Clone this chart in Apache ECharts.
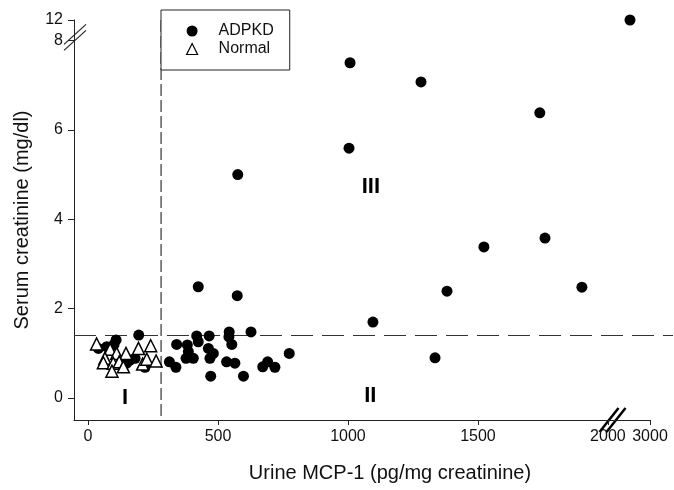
<!DOCTYPE html>
<html>
<head>
<meta charset="utf-8">
<script src="https://cdn.jsdelivr.net/npm/echarts@6/dist/echarts.min.js"></script>
<style>
  html, body { margin: 0; padding: 0; background: #fff; }
  #main { width: 674px; height: 490px; }
</style>
</head>
<body>
<div id="main"></div>
<script>
// ADPKD patients (urine MCP-1, serum creatinine)
const adpkdX = [2525, 1008, 1281, 1738, 1004, 1523, 1758, 1381, 1900, 576, 424, 574, 1096, 1335,
  341, 313, 338, 382, 386, 377, 405, 418, 424, 466, 463, 482, 469, 472,
  543, 542, 553, 533, 565, 598, 627, 672, 691, 719, 774,
  195, 108, 40, 72, 162, 181, 219, 149, 100];
const adpkdY = [12, 7.5, 7.07, 6.38, 5.59, 3.38, 3.58, 2.39, 2.48, 5.0, 2.49, 2.29, 1.7, 0.9,
  1.2, 0.81, 0.69, 1.19, 1.04, 0.89, 0.89, 1.39, 1.26, 1.39, 1.11, 1.0, 0.89, 0.49,
  1.48, 1.37, 1.2, 0.81, 0.78, 0.49, 1.48, 0.7, 0.81, 0.69, 1.0,
  1.41, 1.3, 1.11, 1.15, 0.85, 0.89, 0.69, 0.78, 1.2];

// normal controls
const normalX = [33, 85, 110, 146, 194, 241, 65, 59, 97, 120, 92, 136, 210, 226, 262];
const normalY = [1.21, 1.09, 1.0, 1.0, 1.11, 1.17, 0.89, 0.79, 0.78, 0.81, 0.6, 0.7, 0.76, 0.87, 0.83];

const xTicks = [0, 500, 1000, 1500, 2000, 3000];
const yTicks = [0, 2, 4, 6, 8, 12];

// cut-offs (dashed lines) and region names
const cutX = 281;
const cutY = 1.4;
const regionNames = ['I', 'II', 'III'];
const regionX = [142, 1086, 1088];
const regionY = [0, 0.05, 4.72];

// broken axes: above 2000 / above 8 the scale is squeezed
const X_BREAK = 2000, X_SQUEEZE = 0.162;
const Y_BREAK = 8, Y_SQUEEZE = 0.114;
function vx(x) { return x <= X_BREAK ? x : X_BREAK + (x - X_BREAK) * X_SQUEEZE; }
function vy(y) { return y <= Y_BREAK ? y : Y_BREAK + (y - Y_BREAK) * Y_SQUEEZE; }
function rx(v) { return v <= X_BREAK ? v : Math.round(X_BREAK + (v - X_BREAK) / X_SQUEEZE); }
function ry(v) { return v <= Y_BREAK ? v : Math.round(Y_BREAK + (v - Y_BREAK) / Y_SQUEEZE); }

const xMin = -54, xMax = vx(3000);
const yMin = -0.49, yMax = vy(12);

const FONT = 'Liberation Sans, Arial, sans-serif';
const INK = '#111';

const chart = echarts.init(document.getElementById('main'));

chart.setOption({
  animation: false,
  textStyle: { fontFamily: FONT, color: INK },
  grid: { left: 74, right: 24, top: 20, bottom: 70 },
  legend: {
    left: 161,
    top: 10,
    orient: 'vertical',
    z: 10,
    backgroundColor: '#fff',
    borderColor: '#222',
    borderWidth: 1,
    padding: [13, 16, 13, 25],
    itemGap: 2,
    itemWidth: 11,
    itemHeight: 11,
    formatter: name => '{s|}' + name,
    textStyle: {
      fontSize: 16, color: INK, fontFamily: FONT,
      rich: { s: { width: 16 } }
    },
    data: [
      { name: 'ADPKD', icon: 'circle', itemStyle: { color: '#000' } },
      { name: 'Normal', icon: 'triangle', itemStyle: { color: '#fff', borderColor: '#000', borderWidth: 1.2 } }
    ]
  },
  xAxis: {
    type: 'value',
    min: xMin,
    max: xMax,
    name: 'Urine MCP-1 (pg/mg creatinine)',
    nameLocation: 'middle',
    nameGap: 43,
    nameTextStyle: { fontSize: 20, color: INK, padding: [0, 0, 0, 56] },
    axisLine: { onZero: false, lineStyle: { color: '#222', width: 1 } },
    axisTick: { customValues: xTicks.map(vx), length: 5, lineStyle: { color: '#222' } },
    axisLabel: {
      customValues: xTicks.map(vx),
      fontSize: 16, color: INK, margin: 9,
      formatter: v => String(rx(v))
    },
    splitLine: { show: false }
  },
  yAxis: {
    type: 'value',
    min: yMin,
    max: yMax,
    name: 'Serum creatinine (mg/dl)',
    nameLocation: 'middle',
    nameGap: 42,
    nameTextStyle: { fontSize: 20, color: INK },
    axisLine: { show: true, onZero: false, lineStyle: { color: '#222', width: 1 } },
    axisTick: { show: true, customValues: yTicks.map(vy), length: 6, lineStyle: { color: '#222' } },
    axisLabel: {
      customValues: yTicks.map(vy),
      fontSize: 16, color: INK, margin: 11,
      formatter: v => String(ry(v))
    },
    splitLine: { show: false }
  },
  series: [
    {
      name: 'ADPKD',
      type: 'scatter',
      symbol: 'circle',
      symbolSize: 11,
      itemStyle: { color: '#000', opacity: 1 },
      data: adpkdX.map((x, i) => [vx(x), vy(adpkdY[i])])
    },
    {
      name: 'Normal',
      type: 'scatter',
      symbol: 'triangle',
      symbolSize: 12,
      itemStyle: { color: '#fff', borderColor: '#000', borderWidth: 1.5, opacity: 1 },
      data: normalX.map((x, i) => [vx(x), vy(normalY[i])])
    },
    {
      name: 'regions',
      type: 'scatter',
      silent: true,
      symbolSize: 0,
      itemStyle: { opacity: 1 },
      label: {
        show: true,
        position: 'inside',
        formatter: p => p.data[2],
        fontSize: 22,
        fontWeight: 'bold',
        fontFamily: FONT,
        color: '#000',
        opacity: 1
      },
      data: regionNames.map((n, i) => [vx(regionX[i]), vy(regionY[i]), n])
    }
  ]
});

// dashed cut-off lines and axis-break marks, placed from data through the axes
const px = (x, y) => chart.convertToPixel({ gridIndex: 0 }, [x, y]);
const lo = px(xMin, yMin);
const hi = px(xMax, yMax);
const cut = px(cutX, cutY);
const xb = px(2014, yMin);
const yb = px(xMin, vy(8.6));
const dash = { stroke: '#333', lineWidth: 1.2, lineDash: [22, 9] };

chart.setOption({
  graphic: [
    { type: 'line', z: 1, shape: { x1: lo[0], y1: cut[1], x2: 673, y2: cut[1] }, style: dash },
    { type: 'line', z: 1, shape: { x1: cut[0], y1: hi[1], x2: cut[0], y2: lo[1] },
      style: { stroke: '#333', lineWidth: 1.2, lineDash: [12, 4] } },
    // x break
    { type: 'line', shape: { x1: xb[0] + 2, y1: lo[1], x2: xb[0] + 8, y2: lo[1] }, style: { stroke: '#fff', lineWidth: 3 } },
    { type: 'line', shape: { x1: xb[0] - 12, y1: lo[1] + 12, x2: xb[0] + 7, y2: lo[1] - 12 }, style: { stroke: '#000', lineWidth: 2.5 } },
    { type: 'line', shape: { x1: xb[0] - 5, y1: lo[1] + 12, x2: xb[0] + 14, y2: lo[1] - 12 }, style: { stroke: '#000', lineWidth: 2.5 } },
    // y break
    { type: 'line', shape: { x1: lo[0], y1: yb[1] - 2, x2: lo[0], y2: yb[1] + 4 }, style: { stroke: '#fff', lineWidth: 3 } },
    { type: 'line', shape: { x1: lo[0] - 10, y1: yb[1] + 7, x2: lo[0] + 12, y2: yb[1] - 13 }, style: { stroke: '#222', lineWidth: 1.2 } },
    { type: 'line', shape: { x1: lo[0] - 10, y1: yb[1] + 13, x2: lo[0] + 12, y2: yb[1] - 7 }, style: { stroke: '#222', lineWidth: 1.2 } }
  ]
});
</script>
</body>
</html>
